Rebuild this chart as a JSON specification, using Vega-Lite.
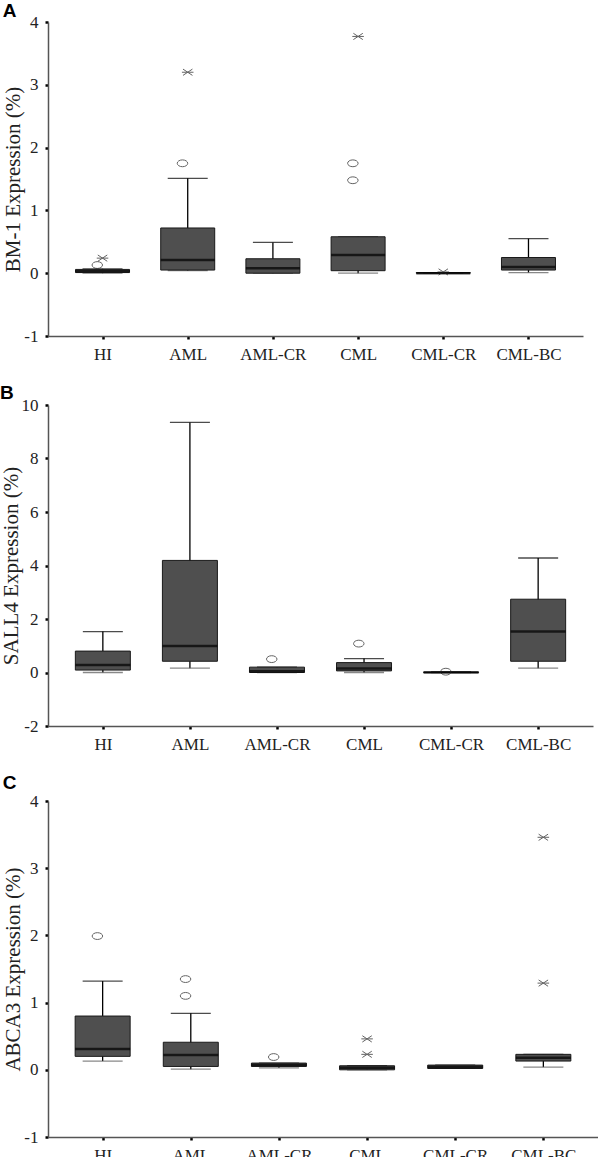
{
  "$schema": "https://vega.github.io/schema/vega-lite/v6.json",
  "padding": {"left": 0, "top": 2, "right": 0, "bottom": 0},
  "background": "white",
  "spacing": 22,
  "datasets": {
    "boxes": [
      {"panel": "A", "group": "HI", "lo": 0.0, "q1": 0.01, "med": 0.03, "q3": 0.06, "hi": 0.07},
      {"panel": "A", "group": "AML", "lo": 0.04, "q1": 0.05, "med": 0.21, "q3": 0.72, "hi": 1.51},
      {"panel": "A", "group": "AML-CR", "lo": 0.0, "q1": 0.0, "med": 0.08, "q3": 0.23, "hi": 0.49},
      {"panel": "A", "group": "CML", "lo": 0.0, "q1": 0.04, "med": 0.29, "q3": 0.58, "hi": 0.58},
      {"panel": "A", "group": "CML-CR", "lo": 0.0, "q1": 0.0, "med": 0.0, "q3": 0.01, "hi": 0.01},
      {"panel": "A", "group": "CML-BC", "lo": 0.01, "q1": 0.05, "med": 0.1, "q3": 0.25, "hi": 0.55},
      {"panel": "B", "group": "HI", "lo": 0.0, "q1": 0.09, "med": 0.28, "q3": 0.8, "hi": 1.53},
      {"panel": "B", "group": "AML", "lo": 0.16, "q1": 0.42, "med": 0.99, "q3": 4.19, "hi": 9.35},
      {"panel": "B", "group": "AML-CR", "lo": 0.0, "q1": 0.0, "med": 0.05, "q3": 0.2, "hi": 0.2},
      {"panel": "B", "group": "CML", "lo": 0.0, "q1": 0.06, "med": 0.15, "q3": 0.37, "hi": 0.52},
      {"panel": "B", "group": "CML-CR", "lo": 0.0, "q1": 0.0, "med": 0.0, "q3": 0.02, "hi": 0.02},
      {"panel": "B", "group": "CML-BC", "lo": 0.16, "q1": 0.42, "med": 1.53, "q3": 2.74, "hi": 4.28},
      {"panel": "C", "group": "HI", "lo": 0.13, "q1": 0.2, "med": 0.31, "q3": 0.8, "hi": 1.32},
      {"panel": "C", "group": "AML", "lo": 0.01, "q1": 0.05, "med": 0.22, "q3": 0.41, "hi": 0.84},
      {"panel": "C", "group": "AML-CR", "lo": 0.03, "q1": 0.05, "med": 0.07, "q3": 0.1, "hi": 0.1},
      {"panel": "C", "group": "CML", "lo": 0.0, "q1": 0.0, "med": 0.03, "q3": 0.06, "hi": 0.06},
      {"panel": "C", "group": "CML-CR", "lo": 0.02, "q1": 0.02, "med": 0.04, "q3": 0.07, "hi": 0.07},
      {"panel": "C", "group": "CML-BC", "lo": 0.04, "q1": 0.13, "med": 0.18, "q3": 0.23, "hi": 0.23}
    ],
    "outliers": [
      {"panel": "A", "group": "HI", "value": 0.13, "kind": "circle"},
      {"panel": "A", "group": "HI", "value": 0.24, "kind": "star"},
      {"panel": "A", "group": "AML", "value": 1.75, "kind": "circle"},
      {"panel": "A", "group": "AML", "value": 3.2, "kind": "star"},
      {"panel": "A", "group": "CML", "value": 1.75, "kind": "circle"},
      {"panel": "A", "group": "CML", "value": 1.48, "kind": "circle"},
      {"panel": "A", "group": "CML", "value": 3.77, "kind": "star"},
      {"panel": "A", "group": "CML-CR", "value": 0.02, "kind": "star"},
      {"panel": "B", "group": "AML-CR", "value": 0.5, "kind": "circle"},
      {"panel": "B", "group": "CML", "value": 1.08, "kind": "circle"},
      {"panel": "B", "group": "CML-CR", "value": 0.03, "kind": "circle"},
      {"panel": "C", "group": "HI", "value": 1.99, "kind": "circle"},
      {"panel": "C", "group": "AML", "value": 1.1, "kind": "circle"},
      {"panel": "C", "group": "AML", "value": 1.35, "kind": "circle"},
      {"panel": "C", "group": "AML-CR", "value": 0.19, "kind": "circle"},
      {"panel": "C", "group": "CML", "value": 0.23, "kind": "star"},
      {"panel": "C", "group": "CML", "value": 0.46, "kind": "star"},
      {"panel": "C", "group": "CML-BC", "value": 1.29, "kind": "star"},
      {"panel": "C", "group": "CML-BC", "value": 3.46, "kind": "star"}
    ]
  },
  "vconcat": [
    {
      "width": 535, "height": 314,
      "title": {"text": "A", "offset": -8},
      "encoding": {
        "x": {"field": "group", "type": "nominal", "sort": ["HI", "AML", "AML-CR", "CML", "CML-CR", "CML-BC"], "scale": {"type": "point", "padding": 0.64}, "axis": {"title": null, "labelAngle": 0}}
      },
      "layer": [
        {"data": {"name": "boxes"}, "transform": [{"filter": "datum.panel === 'A'"}], "mark": {"type": "rule", "color": "black", "strokeWidth": 1.3},
         "encoding": {"y": {"field": "lo", "type": "quantitative", "scale": {"domain": [-1, 4], "nice": false, "zero": false}, "axis": {"title": "BM-1 Expression (%)", "values": [-1, 0, 1, 2, 3, 4]}}, "y2": {"field": "hi"}}},
        {"data": {"name": "boxes"}, "transform": [{"filter": "datum.panel === 'A'"}], "mark": {"type": "tick", "color": "black", "size": 40, "thickness": 1.3}, "encoding": {"y": {"field": "hi", "type": "quantitative"}}},
        {"data": {"name": "boxes"}, "transform": [{"filter": "datum.panel === 'A'"}], "mark": {"type": "tick", "color": "#555", "size": 40, "thickness": 1.3}, "encoding": {"y": {"field": "lo", "type": "quantitative"}}},
        {"data": {"name": "boxes"}, "transform": [{"filter": "datum.panel === 'A'"}], "mark": {"type": "bar", "size": 54, "fill": "#4f4f4f", "stroke": "#1a1a1a", "strokeWidth": 1}, "encoding": {"y": {"field": "q1", "type": "quantitative"}, "y2": {"field": "q3"}}},
        {"data": {"name": "boxes"}, "transform": [{"filter": "datum.panel === 'A'"}], "mark": {"type": "tick", "color": "black", "size": 54, "thickness": 2.5}, "encoding": {"y": {"field": "med", "type": "quantitative"}}},
        {"data": {"name": "outliers"}, "transform": [{"filter": "datum.panel === 'A'"}], "mark": {"type": "point", "filled": false, "strokeWidth": 1, "color": "#222"},
         "encoding": {"y": {"field": "value", "type": "quantitative"}, "shape": {"field": "kind", "type": "nominal", "scale": {"domain": ["circle", "star"], "range": ["M-1,-0.65A1,0.65 0 1,1 -1,0.65A1,0.65 0 1,1 -1,-0.65Z", "M-0.9,-0.6L0.9,0.6M-0.9,0.6L0.9,-0.6M-1.1,0L1.1,0"]}, "legend": null}, "size": {"value": 110}}}
      ]
    },
    {
      "width": 545, "height": 321,
      "title": {"text": "B", "offset": -7},
      "encoding": {
        "x": {"field": "group", "type": "nominal", "sort": ["HI", "AML", "AML-CR", "CML", "CML-CR", "CML-BC"], "scale": {"type": "point", "padding": 0.63}, "axis": {"title": null, "labelAngle": 0}}
      },
      "layer": [
        {"data": {"name": "boxes"}, "transform": [{"filter": "datum.panel === 'B'"}], "mark": {"type": "rule", "color": "black", "strokeWidth": 1.3},
         "encoding": {"y": {"field": "lo", "type": "quantitative", "scale": {"domain": [-2, 10], "nice": false, "zero": false}, "axis": {"title": "SALL4 Expression (%)", "values": [-2, 0, 2, 4, 6, 8, 10]}}, "y2": {"field": "hi"}}},
        {"data": {"name": "boxes"}, "transform": [{"filter": "datum.panel === 'B'"}], "mark": {"type": "tick", "color": "black", "size": 40, "thickness": 1.3}, "encoding": {"y": {"field": "hi", "type": "quantitative"}}},
        {"data": {"name": "boxes"}, "transform": [{"filter": "datum.panel === 'B'"}], "mark": {"type": "tick", "color": "#555", "size": 40, "thickness": 1.3}, "encoding": {"y": {"field": "lo", "type": "quantitative"}}},
        {"data": {"name": "boxes"}, "transform": [{"filter": "datum.panel === 'B'"}], "mark": {"type": "bar", "size": 55, "fill": "#4f4f4f", "stroke": "#1a1a1a", "strokeWidth": 1}, "encoding": {"y": {"field": "q1", "type": "quantitative"}, "y2": {"field": "q3"}}},
        {"data": {"name": "boxes"}, "transform": [{"filter": "datum.panel === 'B'"}], "mark": {"type": "tick", "color": "black", "size": 55, "thickness": 2.5}, "encoding": {"y": {"field": "med", "type": "quantitative"}}},
        {"data": {"name": "outliers"}, "transform": [{"filter": "datum.panel === 'B'"}], "mark": {"type": "point", "filled": false, "strokeWidth": 1, "color": "#222"},
         "encoding": {"y": {"field": "value", "type": "quantitative"}, "shape": {"field": "kind", "type": "nominal", "scale": {"domain": ["circle", "star"], "range": ["M-1,-0.65A1,0.65 0 1,1 -1,0.65A1,0.65 0 1,1 -1,-0.65Z", "M-0.9,-0.6L0.9,0.6M-0.9,0.6L0.9,-0.6M-1.1,0L1.1,0"]}, "legend": null}, "size": {"value": 110}}}
      ]
    },
    {
      "width": 550, "height": 336,
      "title": {"text": "C", "offset": -1},
      "encoding": {
        "x": {"field": "group", "type": "nominal", "sort": ["HI", "AML", "AML-CR", "CML", "CML-CR", "CML-BC"], "scale": {"type": "point", "padding": 0.62}, "axis": {"title": null, "labelAngle": 0}}
      },
      "layer": [
        {"data": {"name": "boxes"}, "transform": [{"filter": "datum.panel === 'C'"}], "mark": {"type": "rule", "color": "black", "strokeWidth": 1.3},
         "encoding": {"y": {"field": "lo", "type": "quantitative", "scale": {"domain": [-1, 4], "nice": false, "zero": false}, "axis": {"title": "ABCA3 Expression (%)", "values": [-1, 0, 1, 2, 3, 4]}}, "y2": {"field": "hi"}}},
        {"data": {"name": "boxes"}, "transform": [{"filter": "datum.panel === 'C'"}], "mark": {"type": "tick", "color": "black", "size": 40, "thickness": 1.3}, "encoding": {"y": {"field": "hi", "type": "quantitative"}}},
        {"data": {"name": "boxes"}, "transform": [{"filter": "datum.panel === 'C'"}], "mark": {"type": "tick", "color": "#555", "size": 40, "thickness": 1.3}, "encoding": {"y": {"field": "lo", "type": "quantitative"}}},
        {"data": {"name": "boxes"}, "transform": [{"filter": "datum.panel === 'C'"}], "mark": {"type": "bar", "size": 55, "fill": "#4f4f4f", "stroke": "#1a1a1a", "strokeWidth": 1}, "encoding": {"y": {"field": "q1", "type": "quantitative"}, "y2": {"field": "q3"}}},
        {"data": {"name": "boxes"}, "transform": [{"filter": "datum.panel === 'C'"}], "mark": {"type": "tick", "color": "black", "size": 55, "thickness": 2.5}, "encoding": {"y": {"field": "med", "type": "quantitative"}}},
        {"data": {"name": "outliers"}, "transform": [{"filter": "datum.panel === 'C'"}], "mark": {"type": "point", "filled": false, "strokeWidth": 1, "color": "#222"},
         "encoding": {"y": {"field": "value", "type": "quantitative"}, "shape": {"field": "kind", "type": "nominal", "scale": {"domain": ["circle", "star"], "range": ["M-1,-0.65A1,0.65 0 1,1 -1,0.65A1,0.65 0 1,1 -1,-0.65Z", "M-0.9,-0.6L0.9,0.6M-0.9,0.6L0.9,-0.6M-1.1,0L1.1,0"]}, "legend": null}, "size": {"value": 110}}}
      ]
    }
  ],
  "config": {
    "view": {"stroke": null},
    "title": {"font": "Liberation Sans", "fontSize": 19, "fontWeight": "bold", "anchor": "start", "frame": "bounds", "color": "black"},
    "axis": {
      "grid": false,
      "domainColor": "#555",
      "domainWidth": 1.5,
      "tickColor": "black",
      "tickSize": 3,
      "tickWidth": 2.5,
      "labelFont": "Liberation Serif",
      "labelFontSize": 17,
      "labelColor": "#222",
      "labelPadding": 7,
      "labelExpr": "'' + datum.value",
      "titleFont": "Liberation Serif",
      "titleFontSize": 21,
      "titleFontWeight": "normal",
      "titleColor": "#222",
      "titlePadding": 0
    }
  }
}
